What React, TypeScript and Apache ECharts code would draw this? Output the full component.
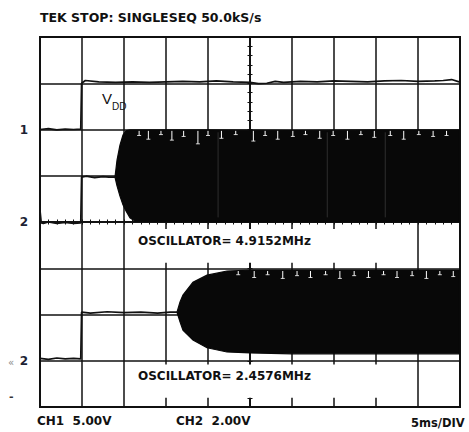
import React, { useEffect, useRef } from "react";
import * as echarts from "echarts";

// time in ms relative to screen centre (5 ms/div), amplitude in divisions relative to centre
const ch1Time = [-25, -24, -23, -22, -21, -20.15, -20.05, -19.6, -18, -16, -14, -12, -10, -8, -6, -4, -2, 0, 1, 2, 3, 4, 6, 8, 10, 12, 14, 16, 18, 20, 22, 23, 24, 24.9];
const ch1Volts = [2.0, 2.02, 1.99, 2.01, 2.0, 2.01, 3.0, 3.06, 3.03, 3.02, 3.03, 3.02, 3.03, 3.04, 3.03, 3.05, 3.03, 3.02, 2.99, 3.0, 3.04, 3.02, 3.04, 3.03, 3.05, 3.04, 3.03, 3.05, 3.06, 3.04, 3.05, 3.06, 3.08, 3.03];

const ch2Time = [-25, -24.85, -24.6, -24, -23, -22, -21, -20.15, -20.05, -19.5, -18.5, -17.5, -16.8, -16.07];
const ch2Volts = [0.25, -0.02, -0.03, 0.0, -0.03, -0.01, -0.03, -0.02, 0.97, 0.99, 0.96, 0.98, 0.97, 0.97];

const band1Time = [-16.07, -15.83, -15.48, -15.12, -14.76, -14.29, -13.69, -5, 5, 15, 24.9];
const band1Upper = [0.97, 1.34, 1.66, 1.88, 1.97, 1.99, 1.99, 1.99, 1.98, 1.99, 1.99];
const band1Lower = [0.97, 0.78, 0.56, 0.37, 0.24, 0.09, 0.02, 0.0, 0.01, 0.0, 0.0];
const band1NotchTimes = [-13.2, -12.1, -10.6, -9.3, -7.9, -6.2, -5.0, -3.4, -1.7, 0.4, 1.8, 3.3, 5.1, 6.6, 8.3, 9.9, 11.6, 13.2, 14.8, 16.7, 18.3, 20.1, 21.8, 23.4];
const band1NotchDepth = [0.12, 0.2, 0.1, 0.22, 0.14, 0.3, 0.12, 0.18, 0.1, 0.24, 0.12, 0.2, 0.14, 0.1, 0.18, 0.12, 0.2, 0.1, 0.16, 0.12, 0.2, 0.1, 0.14, 0.12];
const band1HairTimes = [-3.8, 9.2, 16.1];

const ch3Time = [-25, -24, -23, -22, -21, -20.15, -20.05, -19, -17, -15, -13, -11, -9.5, -8.69];
const ch3Volts = [-2.95, -2.97, -2.94, -2.96, -2.95, -2.96, -1.95, -1.97, -1.94, -1.96, -1.95, -1.97, -1.95, -1.95];

const band2Time = [-8.69, -8.33, -7.98, -6.79, -5.12, -2.74, 0, 5, 15, 24.9];
const band2Upper = [-1.95, -1.73, -1.58, -1.3, -1.15, -1.06, -1.04, -1.04, -1.04, -1.04];
const band2Lower = [-1.95, -2.16, -2.34, -2.55, -2.72, -2.81, -2.83, -2.85, -2.85, -2.85];
const band2NotchTimes = [-1.4, 0.5, 2.1, 3.9, 5.6, 7.2, 9.0, 10.7, 12.4, 14.1, 15.9, 17.5, 19.3, 21.0, 22.6, 24.2];
const band2NotchDepth = [0.1, 0.16, 0.1, 0.18, 0.12, 0.16, 0.1, 0.18, 0.12, 0.16, 0.1, 0.16, 0.12, 0.18, 0.1, 0.14];

const markerValues = [2, 0, -3];
const markerNames = ["1", "2", "2"];

const titleText = "TEK STOP: SINGLESEQ 50.0kS/s";
const osc1Text = "OSCILLATOR= 4.9152MHz";
const osc2Text = "OSCILLATOR= 2.4576MHz";
const ch1Scale = "CH1  5.00V";
const ch2Scale = "CH2  2.00V";
const timeScale = "5ms/DIV";

const INK = "#111";
const FONT = "DejaVu Sans";

const zip = (t: number[], v: number[]) => t.map((x, i) => [x, v[i]]);

function bandSeries(t: number[], up: number[], lo: number[]) {
  return {
    type: "custom",
    data: [0],
    silent: true,
    z: 3,
    renderItem: (_p: any, api: any) => {
      const pts: number[][] = [];
      for (let i = 0; i < t.length; i++) pts.push(api.coord([t[i], up[i]]));
      for (let i = t.length - 1; i >= 0; i--) pts.push(api.coord([t[i], lo[i]]));
      return {
        type: "polygon",
        shape: { points: pts },
        style: { fill: "#080808", stroke: "#080808", lineWidth: 1.2 },
      };
    },
  };
}

// white notches hanging from the band's top edge
function notchSeries(times: number[], depths: number[], top: number) {
  return {
    type: "custom",
    data: times.map((t, i) => [t, depths[i]]),
    silent: true,
    z: 4,
    renderItem: (_p: any, api: any) => {
      const t = api.value(0);
      const d = api.value(1);
      const a = api.coord([t, top - 0.02]);
      const b = api.coord([t, top - d]);
      return {
        type: "group",
        children: [
          { type: "line", shape: { x1: a[0], y1: a[1], x2: b[0], y2: b[1] }, style: { stroke: "#fff", lineWidth: 1 } },
          { type: "line", shape: { x1: b[0] - 2, y1: b[1], x2: b[0] + 2, y2: b[1] }, style: { stroke: "#fff", lineWidth: 0.8 } },
        ],
      };
    },
  };
}

function hairSeries(times: number[], top: number, bottom: number) {
  return {
    type: "custom",
    data: times.map((t) => [t]),
    silent: true,
    z: 4,
    renderItem: (_p: any, api: any) => {
      const t = api.value(0);
      const a = api.coord([t, top - 0.05]);
      const b = api.coord([t, bottom + 0.1]);
      return { type: "line", shape: { x1: a[0], y1: a[1], x2: b[0], y2: b[1] }, style: { stroke: "#555", lineWidth: 0.5 } };
    },
  };
}

function traceSeries(t: number[], v: number[]) {
  return {
    type: "line",
    data: zip(t, v),
    showSymbol: false,
    symbol: "none",
    silent: true,
    z: 3,
    lineStyle: { color: INK, width: 1.7 },
  };
}

export default function App() {
  const ref = useRef<HTMLDivElement>(null);
  useEffect(() => {
    if (!ref.current) return;
    const chart = echarts.init(ref.current, undefined, { renderer: "svg" });
    const tick = { show: true, length: 2.5, lineStyle: { color: INK, width: 1 } };
    const minor = { show: true, splitNumber: 5, length: 2.5, lineStyle: { color: INK, width: 1 } };
    const gridLine = { show: true, lineStyle: { color: INK, width: 1.5 } };
    const xBase = { type: "value", min: -25, max: 25, interval: 5, axisLabel: { show: false } };
    const yBase = { type: "value", min: -4, max: 4, interval: 1 };
    const band1Top = band1Upper[band1Upper.length - 1];
    const band2Top = band2Upper[band2Upper.length - 1];
    chart.setOption({
      animation: false,
      backgroundColor: "#fff",
      grid: { left: 40, right: 9, top: 37, bottom: 25, show: true, borderColor: INK, borderWidth: 2, backgroundColor: "transparent" },
      xAxis: [
        { ...xBase, position: "bottom", axisLine: { show: true, onZero: true, lineStyle: { color: INK, width: 1.5 } }, axisTick: tick, minorTick: minor, splitLine: gridLine },
        { ...xBase, position: "top", axisLine: { show: true, onZero: true, lineStyle: { color: INK, width: 1.5 } }, axisTick: tick, minorTick: minor, splitLine: { show: false } },
      ],
      yAxis: [
        { ...yBase, position: "left", axisLine: { show: true, onZero: true, lineStyle: { color: INK, width: 1.5 } }, axisTick: tick, minorTick: minor, splitLine: gridLine, axisLabel: { show: false } },
        { ...yBase, position: "right", axisLine: { show: true, onZero: true, lineStyle: { color: INK, width: 1.5 } }, axisTick: tick, minorTick: minor, splitLine: { show: false }, axisLabel: { show: false } },
        {
          ...yBase,
          position: "left",
          axisLine: { show: false, onZero: false },
          axisTick: { show: false },
          splitLine: { show: false },
          axisLabel: {
            show: true,
            margin: 12,
            fontFamily: FONT,
            fontWeight: "bold",
            fontSize: 12,
            color: "#1c2233",
            formatter: (v: number) => {
              const i = markerValues.indexOf(v);
              return i >= 0 ? markerNames[i] : "";
            },
          },
        },
      ],
      series: [
        {
          type: "line",
          data: [],
          silent: true,
          z: 1,
          markArea: {
            silent: true,
            itemStyle: { color: "#fff" },
            data: [
              [{ coord: [-14.3, -0.15] }, { coord: [17.9, -0.88] }],
              [{ coord: [-14.3, -3.08] }, { coord: [17.9, -3.8] }],
            ],
          },
        },
        traceSeries(ch1Time, ch1Volts),
        traceSeries(ch2Time, ch2Volts),
        traceSeries(ch3Time, ch3Volts),
        bandSeries(band1Time, band1Upper, band1Lower),
        bandSeries(band2Time, band2Upper, band2Lower),
        notchSeries(band1NotchTimes, band1NotchDepth, band1Top),
        notchSeries(band2NotchTimes, band2NotchDepth, band2Top),
        hairSeries(band1HairTimes, band1Top, 0),
      ],
      graphic: [
        { type: "text", z: 10, left: 40, top: 11, style: { text: titleText, font: `bold 12.5px "${FONT}"`, fill: "#111" } },
        { type: "text", z: 10, left: 102, top: 91, style: { text: "V", font: `15px "Liberation Sans"`, fill: "#111" } },
        { type: "text", z: 10, left: 112, top: 101, style: { text: "DD", font: `10px "Liberation Sans"`, fill: "#111" } },
        { type: "text", z: 10, left: 138, top: 235, style: { text: osc1Text, font: `bold 12px "${FONT}"`, fill: "#111" } },
        { type: "text", z: 10, left: 138, top: 370, style: { text: osc2Text, font: `bold 12px "${FONT}"`, fill: "#111" } },
        { type: "text", z: 10, left: 37, top: 415, style: { text: ch1Scale, font: `bold 12px "${FONT}"`, fill: "#111" } },
        { type: "text", z: 10, left: 176, top: 415, style: { text: ch2Scale, font: `bold 12px "${FONT}"`, fill: "#111" } },
        { type: "text", z: 10, left: 411, top: 417, style: { text: timeScale, font: `bold 11.5px "${FONT}"`, fill: "#111" } },
        { type: "text", z: 10, left: 8, top: 357, style: { text: "«", font: `10px "${FONT}"`, fill: "#888" } },
        { type: "text", z: 10, left: 9, top: 391, style: { text: "-", font: `bold 11px "${FONT}"`, fill: "#333" } },
      ],
    });
    return () => chart.dispose();
  }, []);
  return <div ref={ref} style={{ position: "fixed", left: 0, top: 0, width: 469, height: 432, background: "#fff" }} />;
}
